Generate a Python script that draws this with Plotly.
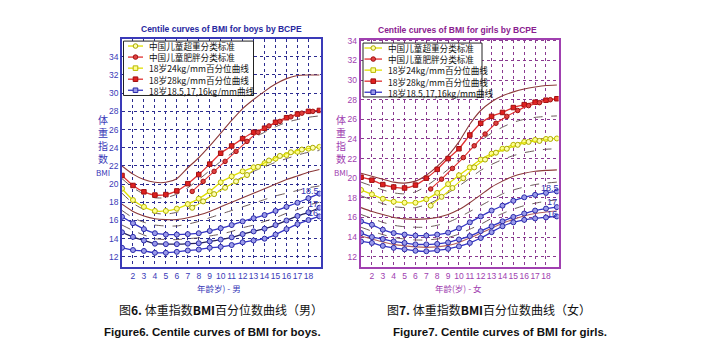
import plotly.graph_objects as go

W, H = 705, 361

# ---------------- data ----------------
ages = list(range(1, 20))
std_ages = [7.4, 8.4, 9.4, 10.4, 11.4, 12.4, 13.4, 14.4, 15.4, 16.4, 17.4, 18.4]
x_ticks = list(range(2, 19))
y_ticks = list(range(12, 36, 2))

# boys
boys_p185 = [16.4, 15.7, 15.05, 14.6, 14.45, 14.45, 14.5, 14.6, 14.85, 15.15, 15.5, 15.9, 16.25, 16.6, 17.05, 17.5, 17.95, 18.45, 18.95]
boys_p17 = [14.7, 14.2, 13.8, 13.45, 13.4, 13.4, 13.45, 13.5, 13.7, 13.9, 14.15, 14.5, 14.8, 15.1, 15.5, 16.0, 16.5, 16.9, 17.4]
boys_p16 = [13.0, 12.75, 12.65, 12.45, 12.45, 12.55, 12.7, 12.8, 13.0, 13.1, 13.3, 13.6, 13.8, 14.0, 14.45, 15.05, 15.6, 16.05, 16.45]
boys_p24 = [19.5, 18.25, 17.5, 17.05, 17.05, 17.3, 17.8, 18.4, 19.2, 20.2, 20.85, 21.4, 21.85, 22.3, 22.8, 23.2, 23.55, 23.9, 24.1]
boys_p28 = [20.95, 19.85, 19.15, 18.8, 18.85, 19.25, 20.05, 21.05, 22.2, 23.4, 24.2, 25.0, 25.7, 26.15, 26.8, 27.3, 27.7, 28.0, 28.1]
boys_top = [22.0, 21.1, 20.5, 20.2, 20.2, 20.6, 21.8, 22.9, 24.2, 25.6, 27.0, 28.3, 29.3, 30.2, 31.0, 31.6, 31.95, 32.0, 32.0]
boys_mid = [17.8, 17.0, 16.5, 16.2, 16.1, 16.1, 16.3, 16.6, 17.0, 17.5, 18.0, 18.5, 19.0, 19.5, 20.0, 20.5, 20.9, 21.3, 21.6]
boys_dash1 = [20.6, 19.6, 18.9, 18.5, 18.5, 18.9, 19.6, 20.5, 21.5, 22.5, 23.4, 24.3, 25.1, 25.7, 26.3, 26.8, 27.1, 27.35, 27.5]
boys_dash2 = [19.0, 17.9, 17.2, 16.8, 16.7, 16.9, 17.3, 17.9, 18.6, 19.4, 20.1, 20.8, 21.4, 21.9, 22.4, 22.8, 23.2, 23.5, 23.7]
boys_dash3 = [17.1, 16.3, 15.8, 15.5, 15.4, 15.4, 15.6, 15.9, 16.3, 16.7, 17.1, 17.5, 17.9, 18.3, 18.7, 19.0, 19.3, 19.6, 19.8]
boys_dash4 = [15.5, 14.9, 14.4, 14.0, 13.9, 13.9, 14.0, 14.1, 14.3, 14.5, 14.8, 15.2, 15.5, 15.9, 16.3, 16.8, 17.2, 17.7, 18.0]
boys_cn_ow = [17.4, 18.1, 18.9, 19.6, 20.3, 21.0, 21.9, 22.6, 23.1, 23.5, 23.8, 24.0]
boys_cn_ob = [19.2, 20.3, 21.4, 22.5, 23.6, 24.7, 25.7, 26.4, 26.9, 27.4, 27.8, 28.0]

# girls
girls_p185 = [15.6, 15.25, 14.75, 14.4, 14.25, 14.15, 14.15, 14.25, 14.45, 14.9, 15.5, 16.1, 16.7, 17.2, 17.7, 18.05, 18.3, 18.5, 18.65]
girls_p17 = [14.4, 14.0, 13.8, 13.55, 13.4, 13.25, 13.25, 13.3, 13.45, 13.75, 14.1, 14.6, 15.1, 15.6, 16.05, 16.4, 16.7, 16.9, 17.05]
girls_p16 = [13.55, 13.4, 13.1, 12.9, 12.75, 12.6, 12.55, 12.65, 12.8, 13.05, 13.4, 13.9, 14.5, 15.1, 15.5, 15.75, 15.9, 16.0, 16.1]
girls_p24 = [18.8, 18.35, 17.9, 17.6, 17.5, 17.5, 17.85, 18.5, 19.4, 20.3, 21.1, 21.9, 22.5, 23.0, 23.4, 23.7, 23.9, 24.0, 24.05]
girls_p28 = [20.1, 19.8, 19.35, 19.1, 19.0, 19.3, 20.0, 20.9, 22.0, 23.0, 24.4, 25.6, 26.3, 26.7, 27.2, 27.5, 27.75, 27.95, 28.1]
girls_top = [20.5, 20.2, 19.9, 19.6, 19.5, 19.7, 20.3, 21.2, 22.3, 23.7, 25.5, 26.9, 27.8, 28.4, 28.8, 29.1, 29.3, 29.45, 29.5]
girls_mid = [17.0, 16.6, 16.3, 16.0, 15.85, 15.8, 15.85, 16.0, 16.3, 16.8, 17.5, 18.3, 19.1, 19.7, 20.2, 20.5, 20.7, 20.8, 20.85]
girls_low = [14.1, 13.8, 13.5, 13.25, 13.1, 13.0, 12.95, 13.0, 13.15, 13.45, 13.9, 14.4, 14.9, 15.4, 15.8, 16.15, 16.4, 16.55, 16.65]
girls_dash1 = [19.6, 19.2, 18.8, 18.5, 18.4, 18.6, 19.2, 20.0, 20.9, 21.9, 22.9, 23.8, 24.6, 25.2, 25.7, 26.0, 26.2, 26.3, 26.35]
girls_dash2 = [18.2, 17.8, 17.4, 17.1, 17.0, 17.0, 17.3, 17.8, 18.5, 19.2, 20.0, 20.8, 21.4, 21.9, 22.3, 22.6, 22.8, 22.95, 23.0]
girls_dash3 = [16.3, 15.9, 15.5, 15.2, 15.05, 15.0, 15.0, 15.2, 15.5, 16.0, 16.6, 17.2, 17.8, 18.4, 18.8, 19.1, 19.35, 19.5, 19.6]
girls_dash4 = [15.0, 14.6, 14.25, 13.95, 13.8, 13.7, 13.7, 13.8, 13.95, 14.3, 14.8, 15.3, 15.9, 16.4, 16.85, 17.2, 17.45, 17.65, 17.8]
girls_cn_ow = [17.2, 18.1, 19.0, 20.0, 21.1, 21.9, 22.6, 23.0, 23.4, 23.7, 23.8, 24.0]
girls_cn_ob = [18.9, 19.9, 21.0, 22.1, 23.3, 24.5, 25.6, 26.3, 26.9, 27.4, 27.7, 28.0]

legend_labels = ["中国儿童超重分类标准", "中国儿童肥胖分类标准", "18岁24kg/mm百分位曲线",
                 "18岁28kg/mm百分位曲线", "18岁18.5,17,16kg/mm曲线"]
curve_labels = ["18.5", "17", "16"]

# ---------------- styles ----------------
BROWN = "#8c3a3a"
DASH = "#5a4646"
YEL = "#e0e000"
RED = "#e03030"
BLUE = "#3434c4"
CJK = "Noto Sans CJK SC"


def px(x):
    return x / W


def py(y):
    return 1 - y / H


fig = go.Figure()


def add_line(xs, ys, axis, color, width=1, dash="solid", marker=None):
    kw = dict(x=xs, y=ys, mode="lines", line=dict(color=color, width=width, dash=dash,
                                                  shape="spline", smoothing=0.6),
              xaxis="x" + axis, yaxis="y" + axis, showlegend=False, hoverinfo="skip")
    if marker:
        kw["mode"] = "lines+markers"
        kw["marker"] = marker
    fig.add_trace(go.Scatter(**kw))


def mk(symbol, fill, edge, size=5):
    return dict(symbol=symbol, size=size, color=fill, line=dict(color=edge, width=1))


def draw_panel(ax, top, mid, low, d1, d2, d3, d4, p28, p24, p185, p17, p16, ow, ob, p17color):
    for d in (d1, d2, d3, d4):
        add_line(ages, d, ax, DASH, 0.9, "dash")
    add_line(ages, top, ax, BROWN, 1.1)
    add_line(ages, mid, ax, BROWN, 1.1)
    if low is not None:
        add_line(ages, low, ax, "#b06060", 1.1)
    add_line(ages, p185, ax, BLUE, 1.3, marker=mk("circle", "#9a9aea", "#2a2aa8"))
    add_line(ages, p17, ax, p17color, 1.3, marker=mk("circle", "#9a9aea", "#2a2aa8"))
    add_line(ages, p16, ax, BLUE, 1.3, marker=mk("circle", "#9a9aea", "#2a2aa8"))
    add_line(ages, p24, ax, YEL, 1.3, marker=mk("circle", "#ffff90", "#b8b800"))
    add_line(std_ages, ow, ax, YEL, 1.1, marker=mk("circle", "#ffffb0", "#a8a800", 5))
    add_line(ages, p28, ax, RED, 1.3, marker=mk("square", "#e02020", "#a01010", 4.5))
    add_line(std_ages, ob, ax, RED, 1.1, marker=mk("circle", "#e04040", "#a01010", 4.5))


draw_panel("", boys_top, boys_mid, None, boys_dash1, boys_dash2, boys_dash3, boys_dash4,
           boys_p28, boys_p24, boys_p185, boys_p17, boys_p16, boys_cn_ow, boys_cn_ob, "#24205e")
draw_panel("2", girls_top, girls_mid, girls_low, girls_dash1, girls_dash2, girls_dash3, girls_dash4,
           girls_p28, girls_p24, girls_p185, girls_p17, girls_p16, girls_cn_ow, girls_cn_ob, BLUE)


def axis(domain, rng, tickvals, color, grid, anchor):
    return dict(domain=domain, range=rng, tickvals=tickvals, showline=True, mirror=True,
                linecolor=color, linewidth=1.6, gridcolor=grid, griddash="dot", gridwidth=1,
                zeroline=False, ticks="", tickangle=0,
                tickfont=dict(family="Liberation Sans", size=8.5, color=color),
                anchor=anchor)


B_AX = "#3a3ab8"
G_AX = "#a040b0"
layout = dict(
    width=W, height=H, margin=dict(l=0, r=0, t=0, b=0),
    paper_bgcolor="white", plot_bgcolor="white", showlegend=False,
    xaxis=axis([px(122), px(320.5)], [1.0, 19.1], x_ticks, B_AX, "#2c2c90", "y"),
    yaxis=axis([py(266), py(35)], [10.88, 36.0], y_ticks, B_AX, "#2c2c90", "x"),
    xaxis2=axis([px(360.5), px(558.5)], [0.95, 19.15], x_ticks, G_AX, "#8a3a90", "y2"),
    yaxis2=axis([py(266), py(36)], [10.94, 34.13], y_ticks, G_AX, "#8a3a90", "x2"),
)
fig.update_layout(**layout)

shapes = []
ann = []


def note(x, y, text, size, color, family=CJK, xanchor="center", xref="paper", yref="paper", **kw):
    ann.append(dict(x=x, y=y, xref=xref, yref=yref, text=text, showarrow=False,
                    xanchor=xanchor, yanchor="middle",
                    font=dict(family=family, size=size, color=color), **kw))


# legends
leg_markers = [
    ("circle", YEL, "#ffffb0", "#a8a800"),
    ("circle", RED, "#e04040", "#a01010"),
    ("square", YEL, "#ffff90", "#b8b800"),
    ("square", RED, "#e02020", "#a01010"),
    ("square", BLUE, "#9a9aea", "#2a2aa8"),
]
LEG_FONT = 8.6
ROW = LEG_FONT * 1.3


def legend(x0, y0, x1, y1, first_row, lx0, lx1, tx):
    shapes.append(dict(type="rect", xref="paper", yref="paper", x0=px(x0), x1=px(x1),
                       y0=py(y1), y1=py(y0), line=dict(color="#222222", width=1), fillcolor="white",
                       layer="above"))
    for i, (sym, lc, fc, ec) in enumerate(leg_markers):
        ry = first_row + i * ROW
        shapes.append(dict(type="line", xref="paper", yref="paper", x0=px(lx0), x1=px(lx1),
                           y0=py(ry), y1=py(ry), line=dict(color=lc, width=1.3), layer="above"))
        cx = (lx0 + lx1) / 2
        r = 2.3
        shapes.append(dict(type="circle" if sym == "circle" else "rect", xref="paper", yref="paper",
                           x0=px(cx - r), x1=px(cx + r), y0=py(ry + r), y1=py(ry - r),
                           fillcolor=fc, line=dict(color=ec, width=1), layer="above"))
    mid = first_row + 2 * ROW
    note(px(tx), py(mid), "<br>".join(legend_labels), LEG_FONT, "#111111", xanchor="left",
         align="left")


legend(123.5, 37.5, 253.5, 92.5, 42.5, 128, 143, 147)
legend(363, 39.5, 482, 94, 44.5, 364.5, 382, 386)

# titles
note(px(221), py(25), "<b>Centile curves of BMI for boys by BCPE</b>", 8.5, "#2828a0", "Liberation Sans")
note(px(457), py(26), "<b>Centile curves of BMI for girls by BCPE</b>", 8.5, "#8a2090", "Liberation Sans")

# y axis titles
for xc, col in ((103, B_AX), (341, G_AX)):
    note(px(xc), py(143), "体<br>重<br>指<br>数<br><span style='font-size:8px'>BMI</span>", 10, col,
         align="center")

# x axis titles
note(px(219), py(287.5), "年龄岁) - 男", 8.5, B_AX)
note(px(458), py(287.5), "年龄(岁) - 女", 8.5, G_AX)

# curve labels
for lab, (bx, by), (gx, gy) in zip(curve_labels,
                                   [(18.1, 19.2), (18.45, 17.8), (18.45, 16.8)],
                                   [(18.35, 18.95), (18.55, 17.55), (18.55, 16.35)]):
    note(bx, by, lab, 9, "#3030b0", "Liberation Sans", xref="x", yref="y")
    note(gx, gy, lab, 9, "#3030b0", "Liberation Sans", xref="x2", yref="y2")

# captions
note(px(221), py(309), "图<b>6.</b> 体重指数<b>BMI</b>百分位数曲线（男）", 12, "#111111")
note(px(212), py(332), "<b>Figure6. Centile curves of BMI for boys.</b>", 11.5, "#111111", "Liberation Sans")
note(px(489), py(309), "图<b>7.</b> 体重指数<b>BMI</b>百分位数曲线（女）", 12, "#111111")
note(px(500), py(332), "<b>Figure7. Centile curves of BMI for girls.</b>", 11.5, "#111111", "Liberation Sans")

fig.update_layout(shapes=shapes, annotations=ann)
fig.write_html("out.html", post_script="document.body.style.margin='0';",
               config={"displayModeBar": False})
